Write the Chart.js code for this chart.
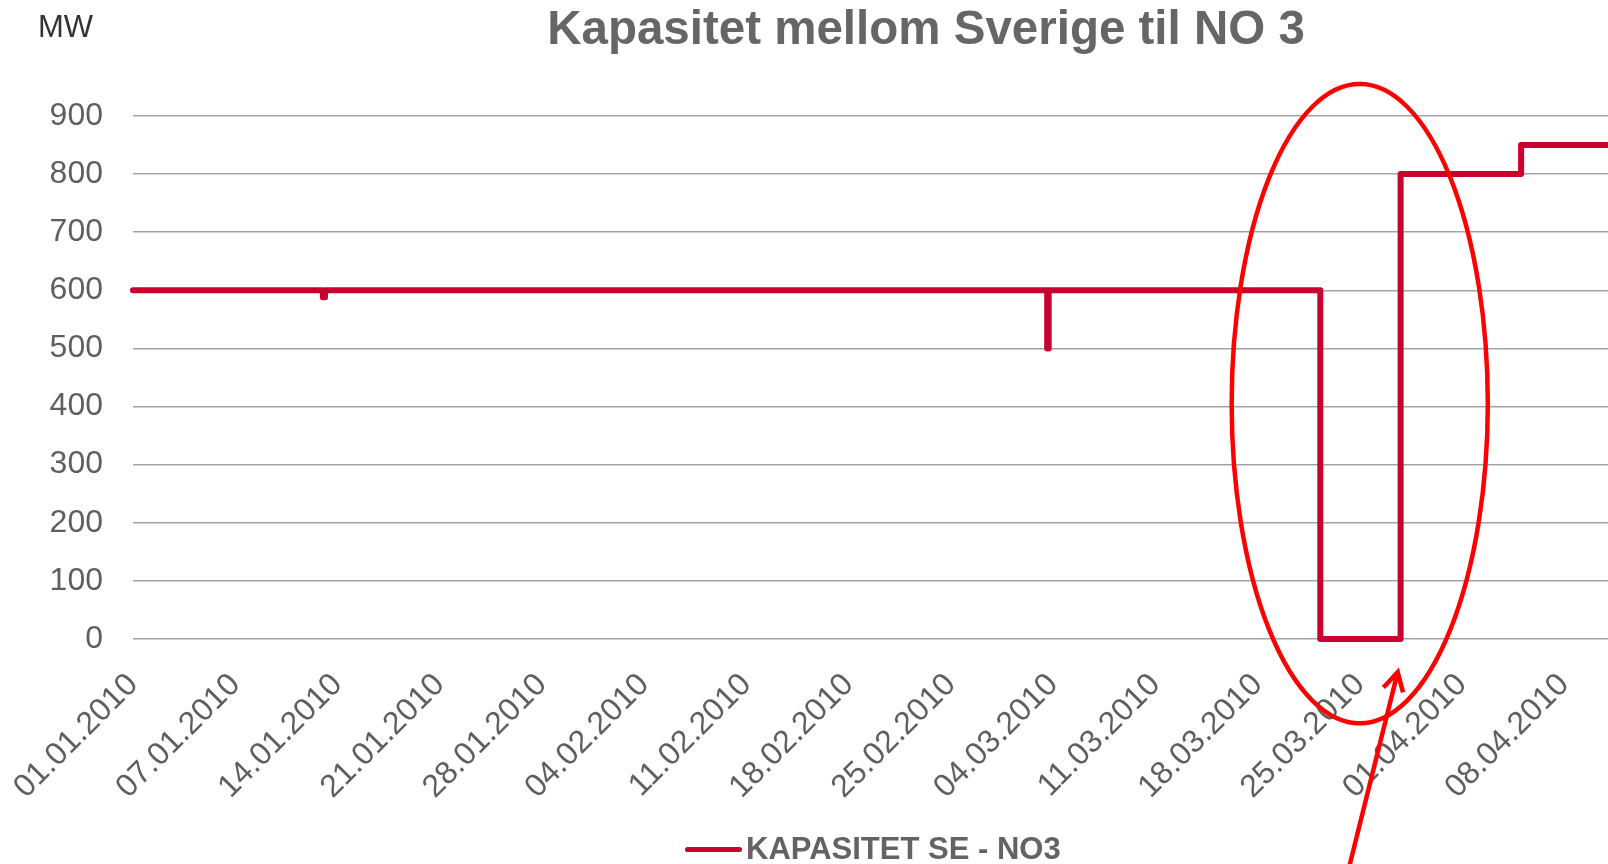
<!DOCTYPE html>
<html lang="no">
<head>
<meta charset="UTF-8">
<title>Kapasitet mellom Sverige til NO 3</title>
<script src="https://cdn.jsdelivr.net/npm/chart.js"></script>
<style>
  * { margin:0; padding:0; box-sizing:border-box; }
  body { width:1608px; height:864px; overflow:hidden; background:#fff; font-family:'Liberation Sans', Arial, sans-serif; }
  .wrap { position:relative; width:1608px; height:864px; }
  canvas { position:absolute; left:0; top:0; }
  .unit { position:absolute; left:38px; top:9px; font-size:31px; color:#333; }
  .title { position:absolute; left:926px; top:0px; transform:translateX(-50%); white-space:nowrap;
           font-size:47.5px; font-weight:bold; color:#666; line-height:56px; }
  .legend { position:absolute; left:685px; top:831px; display:flex; align-items:center; white-space:nowrap;
            font-size:31px; font-weight:bold; color:#636363; line-height:36px; }
  .legend i { display:inline-block; width:57px; height:5px; border-radius:3px; background:#c9002f; margin-right:4px; }
</style>
</head>
<body>
<div class="wrap">
  <canvas id="chart" width="1608" height="864"></canvas>
  <div class="unit">MW</div>
  <div class="title">Kapasitet mellom Sverige til NO 3</div>
  <div class="legend"><i></i>KAPASITET SE - NO3</div>
</div>
<script>
// x-akse: dager fra 01.01.2010 (en etikett per uke)
const tickLabels = ['01.01.2010','07.01.2010','14.01.2010','21.01.2010','28.01.2010','04.02.2010',
  '11.02.2010','18.02.2010','25.02.2010','04.03.2010','11.03.2010','18.03.2010','25.03.2010',
  '01.04.2010','08.04.2010'];
// endringspunkter for kapasiteten (trappelinje)
const dayPos   = [0,   13.0, 13.15, 62.6, 62.7, 81.3, 86.8, 95.05, 101];
const capacity = [600, 588,  600,   500,  600,  0,    800,  850,   850];
const series = 'KAPASITET SE - NO3';

// håndtegnet markering (ellipse + pil) i akseenheter
const ringCenter = [84.0, 405];
const ringRadius = [8.77, 550];
const arrowTail = [83.2, -400];
const arrowTip  = [86.6, -57];

const markup = {
  id: 'markup',
  afterDraw(chart) {
    const { ctx, scales: { x, y } } = chart;
    ctx.save();
    ctx.strokeStyle = '#ff0000';
    ctx.lineWidth = 4.5;
    const cx = x.getPixelForValue(ringCenter[0]), cy = y.getPixelForValue(ringCenter[1]);
    const rx = x.getPixelForValue(ringCenter[0] + ringRadius[0]) - cx;
    const ry = cy - y.getPixelForValue(ringCenter[1] + ringRadius[1]);
    ctx.beginPath();
    ctx.ellipse(cx, cy, rx, ry, 0, 0, Math.PI * 2);
    ctx.stroke();
    const tx = x.getPixelForValue(arrowTail[0]), ty = y.getPixelForValue(arrowTail[1]);
    const hx = x.getPixelForValue(arrowTip[0]), hy = y.getPixelForValue(arrowTip[1]);
    ctx.beginPath();
    ctx.moveTo(tx, ty);
    ctx.lineTo(hx, hy);
    const back = Math.atan2(ty - hy, tx - hx);
    const len = 21, spread = 0.5;
    ctx.moveTo(hx + len * Math.cos(back + spread), hy + len * Math.sin(back + spread));
    ctx.lineTo(hx, hy);
    ctx.lineTo(hx + len * Math.cos(back - spread), hy + len * Math.sin(back - spread));
    ctx.stroke();
    ctx.restore();
  }
};

new Chart(document.getElementById('chart'), {
  type: 'line',
  data: {
    datasets: [{
      label: series,
      data: dayPos.map((d, i) => ({ x: d, y: capacity[i] })),
      stepped: true,
      borderColor: '#c9002f',
      borderWidth: 6,
      borderJoinStyle: 'round',
      borderCapStyle: 'round',
      pointRadius: 0,
      fill: false,
      clip: false
    }]
  },
  options: {
    responsive: false,
    animation: false,
    layout: { padding: { top: 116, left: 0, right: 0, bottom: 0 } },
    plugins: { legend: { display: false }, tooltip: { enabled: false } },
    scales: {
      x: {
        type: 'linear',
        min: 0,
        max: 101,
        grid: { display: false },
        border: { display: false },
        afterBuildTicks: (scale) => { scale.ticks = tickLabels.map((_, i) => ({ value: i * 7 })); },
        afterFit: (scale) => { scale.height = 225; scale.paddingLeft = 0; scale.paddingRight = 0; },
        ticks: {
          autoSkip: false,
          minRotation: 45,
          maxRotation: 45,
          padding: 19,
          color: '#5f5f5f',
          font: { family: "'Liberation Sans', Arial, sans-serif", size: 32 },
          callback: (v) => tickLabels[Math.round(v / 7)]
        }
      },
      y: {
        min: 0,
        max: 900,
        grid: { color: '#a3a3a3', lineWidth: 1.5, drawTicks: false },
        border: { display: false },
        afterFit: (scale) => { scale.width = 133; },
        ticks: {
          stepSize: 100,
          padding: 30,
          color: '#5f5f5f',
          font: { family: "'Liberation Sans', Arial, sans-serif", size: 32 }
        }
      }
    }
  },
  plugins: [markup]
});
</script>
</body>
</html>
